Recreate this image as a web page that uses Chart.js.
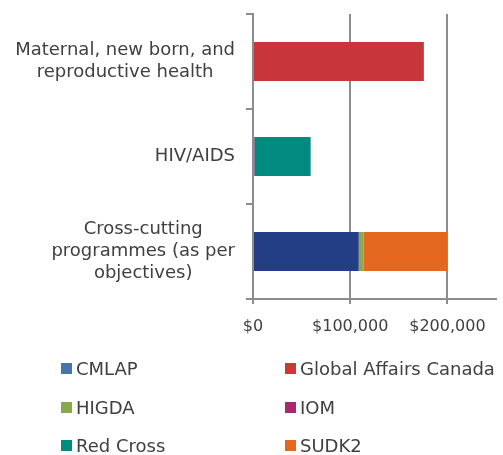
<!DOCTYPE html>
<html>
<head>
<meta charset="utf-8">
<script src="https://cdn.jsdelivr.net/npm/chart.js@4"></script>
<style>
  body { margin: 0; background: #fff; }
  #wrap { position: relative; width: 503px; height: 455px; overflow: hidden; }
  #legend { position: absolute; left: 61px; top: 358px; width: 460px;
    display: grid; grid-template-columns: 224px 236px; grid-auto-rows: 38.5px;
    font: 18px "DejaVu Sans", sans-serif; color: #404040; white-space: nowrap; }
  #legend span.box { display: inline-block; width: 11px; height: 11px; margin-right: 4px; vertical-align: 1px; }
</style>
</head>
<body>
<div id="wrap">
  <canvas id="chart" width="503" height="455"></canvas>
  <div id="legend"></div>
</div>
<script>
// categories (top to bottom)
const categories = [
  ['Maternal, new born, and', 'reproductive health'],
  'HIV/AIDS',
  ['Cross-cutting', 'programmes (as per', 'objectives)']
];

// funding per donor, same order as categories
const cmlap = [0, 0, 108800];
const globalAffairs = [175800, 0, 0];
const higda = [0, 0, 4800];
const iom = [0, 1500, 0];
const redCross = [0, 57800, 0];
const sudk2 = [0, 0, 86200];

const xTicks = [0, 100000, 200000];

const datasets = [
  { label: 'CMLAP', data: cmlap, backgroundColor: '#233e84', legendColor: '#4674ab' },
  { label: 'Global Affairs Canada', data: globalAffairs, backgroundColor: '#c8363a', legendColor: '#cc3833' },
  { label: 'HIGDA', data: higda, backgroundColor: '#8aa74c', legendColor: '#8aa74c' },
  { label: 'IOM', data: iom, backgroundColor: '#a8276f', legendColor: '#a8276f' },
  { label: 'Red Cross', data: redCross, backgroundColor: '#008a80', legendColor: '#008a80' },
  { label: 'SUDK2', data: sudk2, backgroundColor: '#e4671f', legendColor: '#e4671f' }
];

const lineColor = '#8c8c8c';
const textColor = '#404040';

// category labels: each block right aligned, its lines centred (like the original)
const centeredLabels = {
  id: 'centeredLabels',
  afterDraw(chart) {
    const ctx = chart.ctx;
    const y = chart.scales.y;
    ctx.save();
    ctx.font = '18px "DejaVu Sans"';
    ctx.fillStyle = textColor;
    ctx.textAlign = 'center';
    ctx.textBaseline = 'middle';
    categories.forEach((c, i) => {
      const lines = [].concat(c);
      const w = Math.max(...lines.map(l => ctx.measureText(l).width));
      const cx = y.right - 18 - w / 2;
      const cy = y.getPixelForValue(i);
      lines.forEach((l, k) => ctx.fillText(l, cx, cy + (k - (lines.length - 1) / 2) * 22));
    });
    ctx.restore();
  }
};

new Chart(document.getElementById('chart'), {
  type: 'bar',
  data: { labels: categories, datasets: datasets },
  plugins: [centeredLabels],
  options: {
    indexAxis: 'y',
    responsive: false,
    animation: false,
    layout: { padding: { top: 14, right: 7, left: 0, bottom: 0 } },
    datasets: { bar: { categoryPercentage: 1, barPercentage: 0.41 } },
    plugins: { legend: { display: false }, tooltip: { enabled: false } },
    scales: {
      x: {
        stacked: true,
        min: 0,
        max: 250000,
        afterBuildTicks: s => { s.ticks = xTicks.map(v => ({ value: v })); },
        afterFit: s => { s.height = 455 - 299; },
        ticks: {
          padding: 13,
          color: textColor,
          font: { family: 'DejaVu Sans', size: 16 },
          callback: v => '$' + v.toLocaleString('en-US')
        },
        grid: { color: lineColor, lineWidth: 2, tickLength: 5 },
        border: { color: lineColor, width: 2 }
      },
      y: {
        stacked: true,
        afterFit: s => { s.width = 253; s.paddingTop = 0; s.paddingBottom = 0; },
        ticks: { display: false },
        grid: { offset: true, drawOnChartArea: false, color: lineColor, lineWidth: 2, tickLength: 7 },
        border: { color: lineColor, width: 2 }
      }
    }
  }
});

// two-column legend as in the original
const legend = document.getElementById('legend');
datasets.forEach(d => {
  const item = document.createElement('div');
  item.innerHTML = '<span class="box" style="background:' + d.legendColor + '"></span>' + d.label;
  legend.appendChild(item);
});
</script>
</body>
</html>
